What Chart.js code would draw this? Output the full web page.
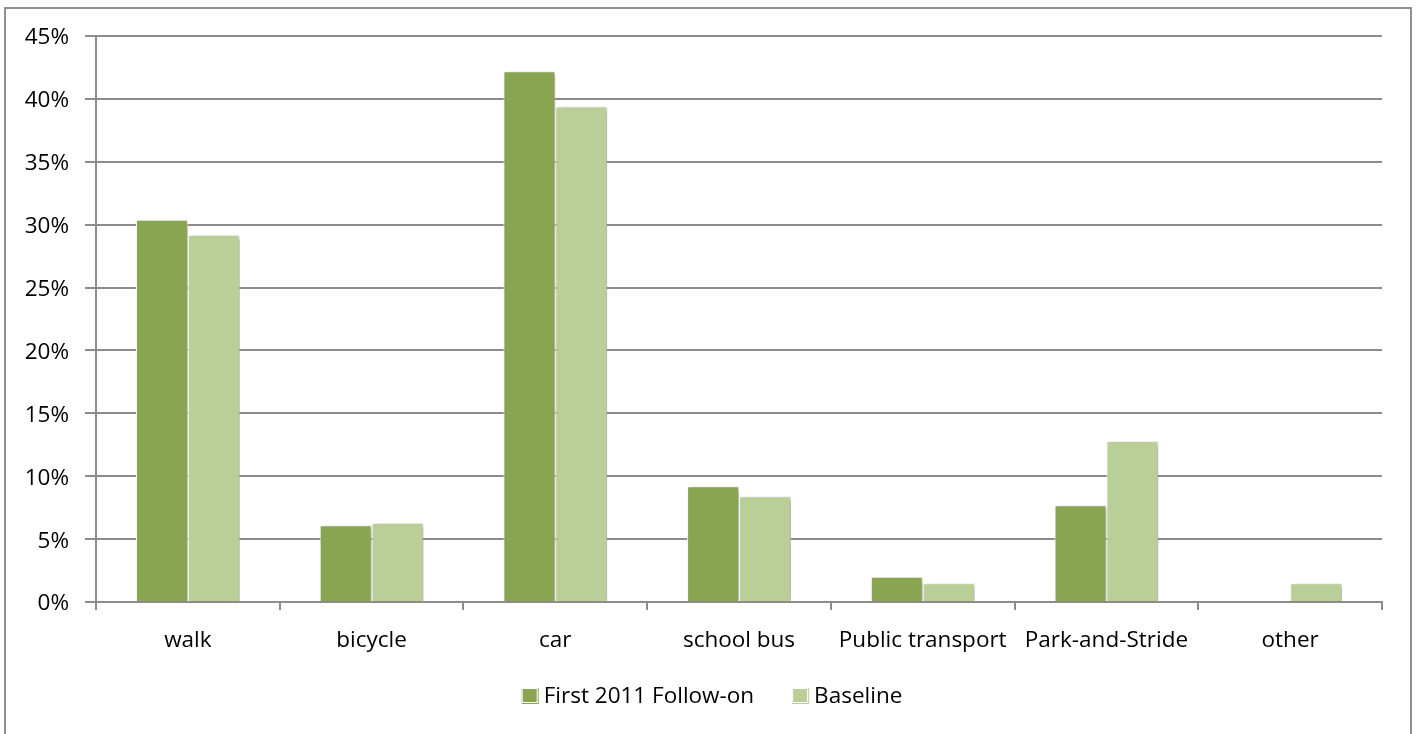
<!DOCTYPE html>
<html>
<head>
<meta charset="utf-8">
<script src="https://cdn.jsdelivr.net/npm/chart.js@4.4.1/dist/chart.umd.min.js"></script>
<style>
  html, body { margin: 0; padding: 0; background: #ffffff; }
  #wrap { position: relative; width: 1416px; height: 734px; }
</style>
</head>
<body>
<div id="wrap"><canvas id="c" width="1416" height="734"></canvas></div>
<script>
// Travel mode shares (percent of pupils)
const categories = ['walk', 'bicycle', 'car', 'school bus', 'Public transport', 'Park-and-Stride', 'other'];
const followOn2011 = [30.4, 6.1, 42.2, 9.2, 2.0, 7.7, 0];
const baseline = [29.2, 6.3, 39.4, 8.4, 1.5, 12.8, 1.5];
const seriesNames = ['First 2011 Follow-on', 'Baseline'];
const yTicks = [0, 5, 10, 15, 20, 25, 30, 35, 40, 45];

const FONT = '"Open Sans", Lato, "Liberation Sans", sans-serif';
const FONT_SIZE = 22.5;
const GRID = '#8c8c8c';
const DARK = '#8aa551';
const LIGHT = '#bacf98';

// soft drop shadow behind the bars
const barShadow = {
  id: 'barShadow',
  beforeDatasetsDraw(chart) {
    const ctx = chart.ctx;
    ctx.save();
    ctx.shadowColor = 'rgba(0,0,0,0.35)';
    ctx.shadowBlur = 5;
    ctx.shadowOffsetX = 3;
    ctx.shadowOffsetY = 2;
  },
  afterDatasetsDraw(chart) {
    chart.ctx.restore();
  }
};

// outer frame and bottom legend
const frameAndLegend = {
  id: 'frameAndLegend',
  afterDraw(chart) {
    const ctx = chart.ctx;
    ctx.save();
    ctx.strokeStyle = '#8f8f8f';
    ctx.lineWidth = 2;
    ctx.strokeRect(5, 8, 1406, 740);

    ctx.font = FONT_SIZE + 'px ' + FONT;
    ctx.textBaseline = 'middle';
    const box = 18, gapText = 4, gapItem = 38;
    const items = chart.data.datasets.map(ds => ({
      label: ds.label, color: ds.backgroundColor, w: ctx.measureText(ds.label).width
    }));
    let total = 0;
    items.forEach((it, i) => { total += box + gapText + it.w + (i < items.length - 1 ? gapItem : 0); });
    let x = 712 - total / 2;
    const cy = 696;
    items.forEach(it => {
      // key square with a light inner edge
      ctx.fillStyle = it.color;
      ctx.fillRect(x, cy - 8, box - 1, box - 2);
      ctx.strokeStyle = '#ffffff';
      ctx.lineWidth = 1;
      ctx.strokeRect(x + 0.5, cy - 7.5, box - 3, box - 4);
      ctx.fillStyle = '#000000';
      ctx.fillText(it.label, x + box + gapText, cy + 1);
      x += box + gapText + it.w + gapItem;
    });
    ctx.restore();
  }
};

new Chart(document.getElementById('c'), {
  type: 'bar',
  data: {
    labels: categories,
    datasets: [
      { label: seriesNames[0], data: followOn2011, backgroundColor: DARK },
      { label: seriesNames[1], data: baseline, backgroundColor: LIGHT }
    ]
  },
  options: {
    responsive: false,
    animation: false,
    devicePixelRatio: 1,
    layout: { padding: { top: 36, right: 34, left: 0, bottom: 0 } },
    datasets: {
      bar: {
        categoryPercentage: 0.565,
        barPercentage: 1.0,
        borderColor: '#ffffff',
        borderWidth: { top: 1, left: 1, right: 1, bottom: 0 },
        borderSkipped: false
      }
    },
    plugins: {
      legend: { display: false },
      tooltip: { enabled: false }
    },
    scales: {
      x: {
        afterFit(scale) { scale.height = 132; },
        grid: {
          offset: true,
          drawOnChartArea: false,
          drawTicks: true,
          tickLength: 8,
          color: GRID,
          lineWidth: 2
        },
        border: { display: true, color: GRID, width: 2 },
        ticks: {
          padding: 17,
          color: '#000000',
          font: { family: FONT, size: FONT_SIZE },
          maxRotation: 0,
          autoSkip: false
        }
      },
      y: {
        min: 0,
        max: 45,
        afterFit(scale) { scale.width = 96; },
        afterBuildTicks(scale) { scale.ticks = yTicks.map(v => ({ value: v })); },
        grid: {
          color: GRID,
          lineWidth: 2,
          drawTicks: true,
          tickLength: 11
        },
        border: { display: true, color: GRID, width: 2 },
        ticks: {
          padding: 16,
          labelOffset: 2,
          color: '#000000',
          font: { family: FONT, size: FONT_SIZE },
          callback: v => v + '%'
        }
      }
    }
  },
  plugins: [barShadow, frameAndLegend]
});
</script>
</body>
</html>
